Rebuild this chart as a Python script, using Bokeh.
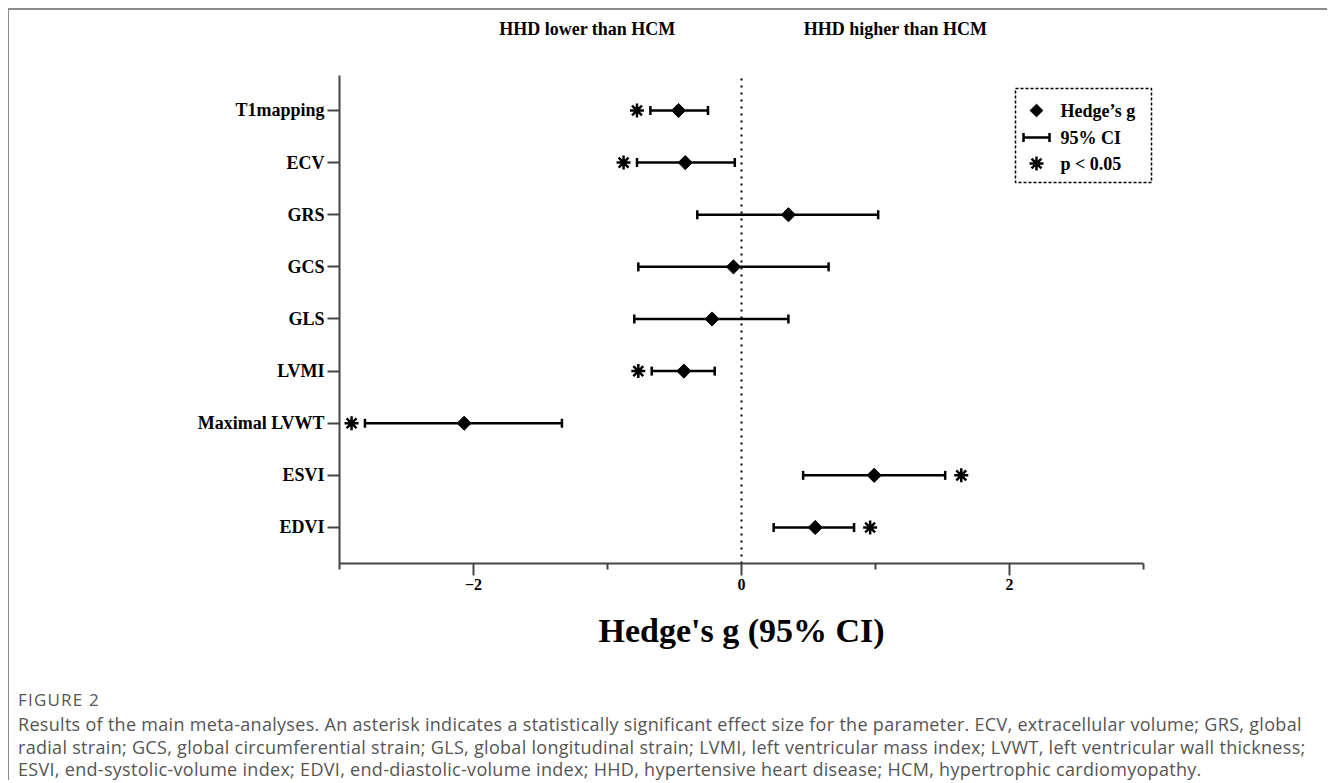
from bokeh.plotting import figure
from bokeh.models import Range1d, FixedTicker, ColumnDataSource, Div, Title
from bokeh.layouts import column
from bokeh.core.properties import value
from bokeh.embed import file_html
from bokeh.resources import INLINE

# ---------------- data ----------------
params = ["T1mapping", "ECV", "GRS", "GCS", "GLS", "LVMI", "Maximal LVWT", "ESVI", "EDVI"]
hedges_g = [-0.47, -0.42, 0.35, -0.06, -0.22, -0.43, -2.07, 0.99, 0.55]
ci_low = [-0.68, -0.78, -0.33, -0.77, -0.80, -0.67, -2.81, 0.46, 0.24]
ci_high = [-0.25, -0.05, 1.02, 0.65, 0.35, -0.20, -1.34, 1.52, 0.84]
significant = [True, True, False, False, False, True, True, True, True]

x_ticks = [-2, 0, 2]
x_minor_ticks = [-3, -1, 1, 3]
header_left = "HHD lower than HCM"
header_right = "HHD higher than HCM"
x_label = "Hedge's g (95% CI)"
legend_labels = ["Hedge\u2019s g", "95% CI", "p < 0.05"]
fig_label = "FIGURE 2"
caption_lines = [
    "Results of the main meta-analyses. An asterisk indicates a statistically significant effect size for the parameter. ECV, extracellular volume; GRS, global",
    "radial strain; GCS, global circumferential strain; GLS, global longitudinal strain; LVMI, left ventricular mass index; LVWT, left ventricular wall thickness;",
    "ESVI, end-systolic-volume index; EDVI, end-diastolic-volume index; HHD, hypertensive heart disease; HCM, hypertrophic cardiomyopathy.",
]

# ---------------- layout / style ----------------
W, H = 1318, 670
X_START, X_END = -3.0, 3.2015
Y_START, Y_END = 0.309, 10.88
FRAME_LEFT_PX, PX_PER_X = 339.0, 134.0      # page pixels
FRAME_BOTTOM_PX, PX_PER_Y = 563.0, 52.125

def px_x(px):
    return X_START + (px - FRAME_LEFT_PX) / PX_PER_X

def px_y(py):
    return Y_START + (FRAME_BOTTOM_PX - py) / PX_PER_Y

SERIF = "Liberation Serif"
SANS = "Open Sans"
AXIS_COLOR = "#444444"
AXIS_TOP = px_y(75)

n = len(params)
ys = [n - i for i in range(n)]
star_x = [lo - 0.10 if g < 0 else hi + 0.12 for g, lo, hi in zip(hedges_g, ci_low, ci_high)]

src = ColumnDataSource(dict(y=ys, g=hedges_g, lo=ci_low, hi=ci_high))
star_src = ColumnDataSource(dict(
    x=[sx for sx, s in zip(star_x, significant) if s],
    y=[y for y, s in zip(ys, significant) if s],
))

p = figure(width=W, height=H,
           x_range=Range1d(X_START, X_END), y_range=Range1d(Y_START, Y_END),
           output_backend="svg", toolbar_location=None,
           min_border_left=330, min_border_right=157,
           min_border_top=2, min_border_bottom=117)
p.outline_line_color = None
p.grid.visible = False
p.background_fill_color = "white"
p.border_fill_color = "white"

# x axis
xa = p.xaxis[0]
xa.bounds = (-3, 3)
xa.ticker = FixedTicker(ticks=x_ticks, minor_ticks=x_minor_ticks)
xa.axis_line_color = AXIS_COLOR
xa.axis_line_width = 2
xa.major_tick_line_color = AXIS_COLOR
xa.major_tick_line_width = 2
xa.major_tick_in = 0
xa.major_tick_out = 12
xa.minor_tick_line_color = AXIS_COLOR
xa.minor_tick_line_width = 2
xa.minor_tick_in = 0
xa.minor_tick_out = 6
xa.major_label_text_font = SERIF
xa.major_label_text_font_style = "bold"
xa.major_label_text_font_size = "16px"
xa.major_label_text_color = "black"
xa.major_label_standoff = 3

# x axis title, centred under the axis line (not the wider frame)
p.add_layout(Title(text=x_label, align="left", offset=259, standoff=34,
                   text_font=SERIF, text_font_style="bold", text_font_size="34px",
                   text_color="black"), "below")

# y axis
ya = p.yaxis[0]
ya.bounds = (Y_START, AXIS_TOP)
ya.ticker = FixedTicker(ticks=ys, minor_ticks=[])
ya.major_label_overrides = {y: name for y, name in zip(ys, params)}
ya.axis_line_color = AXIS_COLOR
ya.axis_line_width = 2
ya.major_tick_line_color = AXIS_COLOR
ya.major_tick_line_width = 2
ya.major_tick_in = 0
ya.major_tick_out = 12
ya.minor_tick_line_color = None
ya.major_label_text_font = SERIF
ya.major_label_text_font_style = "bold"
ya.major_label_text_font_size = "18px"
ya.major_label_text_color = "black"
ya.major_label_standoff = 3

# zero reference line
p.segment(x0=[0], y0=[Y_START], x1=[0], y1=[AXIS_TOP], line_color="black",
          line_width=2, line_dash="2 5")

# CIs and estimates
p.segment(x0="lo", y0="y", x1="hi", y1="y", source=src, line_color="black", line_width=2.5)
p.scatter(x="lo", y="y", source=src, marker="dash", angle=1.5708, size=9,
          line_color="black", line_width=2.5)
p.scatter(x="hi", y="y", source=src, marker="dash", angle=1.5708, size=9,
          line_color="black", line_width=2.5)
p.scatter(x="g", y="y", source=src, marker="square", angle=0.7854, size=10,
          fill_color="black", line_color="black")
p.scatter(x="x", y="y", source=star_src, marker="asterisk", size=14,
          line_color="black", line_width=2.5)

# headers
p.text(x=[-1.15, 1.15], y=[px_y(28)] * 2, text=[header_left, header_right],
       text_font=value(SERIF), text_font_style="bold", text_font_size="18px",
       text_align="center", text_baseline="middle", text_color="black")

# legend (drawn by hand)
p.quad(left=[px_x(1015)], right=[px_x(1151)], top=[px_y(88)], bottom=[px_y(182)],
       fill_color=None, line_color="black", line_width=1.5, line_dash="3 2")
leg_y = [px_y(110), px_y(137), px_y(163)]
mx = px_x(1036)
p.scatter(x=[mx], y=[leg_y[0]], marker="square", angle=0.7854, size=9,
          fill_color="black", line_color="black")
p.segment(x0=[px_x(1023)], y0=[leg_y[1]], x1=[px_x(1049)], y1=[leg_y[1]],
          line_color="black", line_width=2.5)
p.scatter(x=[px_x(1023), px_x(1049)], y=[leg_y[1]] * 2, marker="dash", angle=1.5708, size=9,
          line_color="black", line_width=2.5)
p.scatter(x=[mx], y=[leg_y[2]], marker="asterisk", size=14, line_color="black", line_width=2.5)
p.text(x=[px_x(1060)] * 3, y=leg_y, text=legend_labels,
       text_font=value(SERIF), text_font_style="bold", text_font_size="18px",
       text_align="left", text_baseline="middle", text_color="black")

# caption
cap_html = (
    f'<div style="font-family:\'{SANS}\'; color:#555555; white-space:nowrap;">'
    f'<div style="font-size:17px; letter-spacing:1.2px; line-height:22px; margin-bottom:2px;">{fig_label}</div>'
    + "".join(f'<div style="font-size:18px; letter-spacing:0.3px; line-height:22.5px;">{ln}</div>'
              for ln in caption_lines)
    + "</div>"
)
caption = Div(text=cap_html, width=W - 12, height=100,
              styles={"padding-left": "9px", "padding-top": "9px", "margin": "0"})

layout = column(p, caption, styles={
    "margin-left": "8px", "margin-top": "8px",
    "border-top": "2px solid #8c8c8c", "border-left": "1px solid #8c8c8c",
})

open("out.html", "w").write(file_html(layout, INLINE))
